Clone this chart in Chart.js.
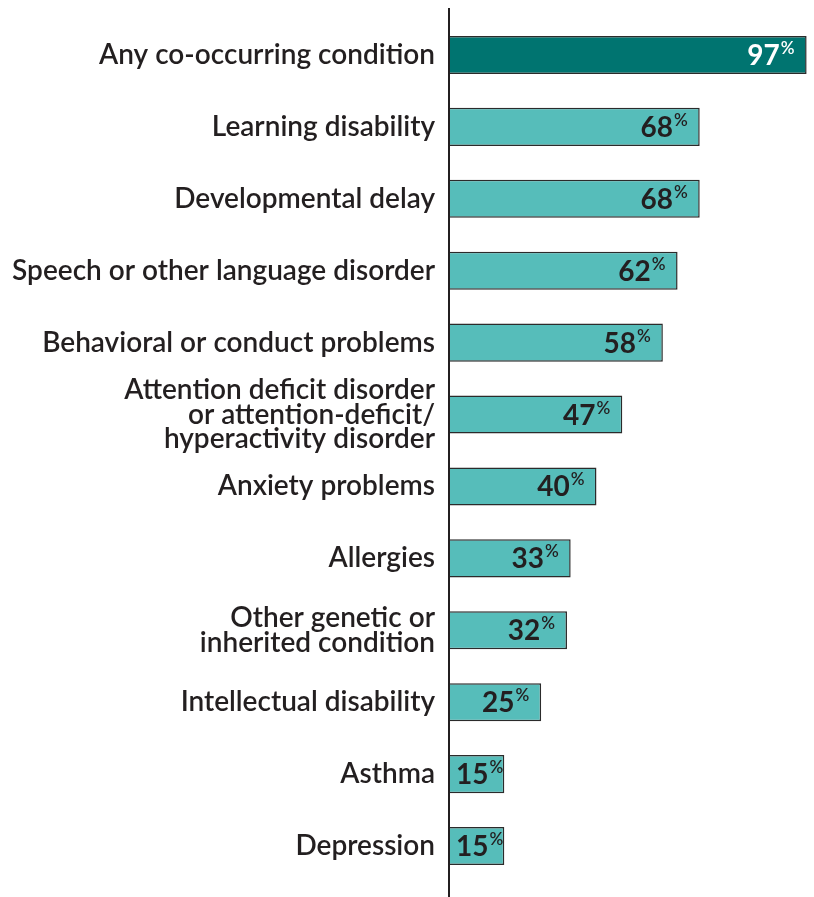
<!DOCTYPE html>
<html>
<head>
<meta charset="utf-8">
<script src="https://cdn.jsdelivr.net/npm/chart.js@4.4.1/dist/chart.umd.min.js"></script>
<style>
  body { margin: 0; background: #fff; }
  #wrap { width: 814px; height: 897px; position: relative; }
</style>
</head>
<body>
<div id="wrap"><canvas id="BarChart"></canvas></div>
<script>
var labels = [
    'Any co-occurring condition',
    'Learning disability',
    'Developmental delay',
    'Speech or other language disorder',
    'Behavioral or conduct problems',
    ['Attention deficit disorder', 'or attention-deficit/', 'hyperactivity disorder'],
    'Anxiety problems',
    'Allergies',
    ['Other genetic or', 'inherited condition'],
    'Intellectual disability',
    'Asthma',
    'Depression'
];
var values = [97, 68, 68, 62, 58, 47, 40, 33, 32, 25, 15, 15];

var barColors = values.map(function (v, i) { return i == 0 ? '#007470' : '#56bdba'; });
var textColors = values.map(function (v, i) { return i == 0 ? '#ffffff' : '#231f20'; });

// draws the vertical axis line, taller than the plot area
var axisLine = {
    id: 'axisLine',
    afterDatasetsDraw: function (chart) {
        var ctx = chart.ctx;
        var x = chart.chartArea.left;
        ctx.save();
        ctx.strokeStyle = '#231f20';
        ctx.lineWidth = 2;
        ctx.beginPath();
        ctx.moveTo(x, 8);
        ctx.lineTo(x, chart.height);
        ctx.stroke();
        ctx.restore();
    }
};

// value labels inside the bars with a small superscript %
var valueLabels = {
    id: 'valueLabels',
    afterDatasetsDraw: function (chart) {
        var ctx = chart.ctx;
        var meta = chart.getDatasetMeta(0);
        ctx.save();
        meta.data.forEach(function (bar, i) {
            ctx.font = '600 17px Lato';
            var pw = ctx.measureText('%').width;
            ctx.font = 'bold 28px Lato';
            var nw = ctx.measureText(String(values[i])).width;
            var right = bar.x - 12;
            // short bars: keep the text clear of the axis
            if (right - pw - nw - 1 < bar.base + 7) {
                right = bar.base + 7 + nw + pw + 1;
            }
            ctx.fillStyle = textColors[i];
            ctx.textBaseline = 'alphabetic';
            ctx.textAlign = 'right';
            ctx.fillText(String(values[i]), right - pw - 1, bar.y + 10);
            ctx.font = '600 17px Lato';
            ctx.fillText('%', right, bar.y - 1);
        });
        ctx.restore();
    }
};

var data = {
    labels: labels,
    datasets: [{
        data: values,
        backgroundColor: barColors,
        borderColor: '#2b2b2b',
        borderWidth: 1.5,
        borderSkipped: 'left',
        categoryPercentage: 1,
        barPercentage: 0.53,
    }]
};

var config = {
    type: 'bar',
    data: data,
    options: {
        indexAxis: 'y',
        responsive: true,
        maintainAspectRatio: false,
        animation: false,
        layout: { padding: { top: 19, bottom: 15, right: 0, left: 0 } },
        plugins: {
            legend: { display: false },
            tooltip: { enabled: false }
        },
        scales: {
            x: {
                display: false,
                min: 0,
                max: 99
            },
            y: {
                afterFit: function (scale) {
                    scale.width = 449;
                    scale.paddingTop = 0;
                    scale.paddingBottom = 0;
                },
                grid: { display: false, drawTicks: false },
                border: { display: false },
                ticks: {
                    autoSkip: false,
                    padding: 14,
                    color: '#231f20',
                    font: { family: 'Lato', size: 28, weight: '600', lineHeight: 0.88 }
                }
            }
        }
    },
    plugins: [axisLine, valueLabels]
};

var barChart = new Chart(document.getElementById('BarChart'), config);
</script>
</body>
</html>
